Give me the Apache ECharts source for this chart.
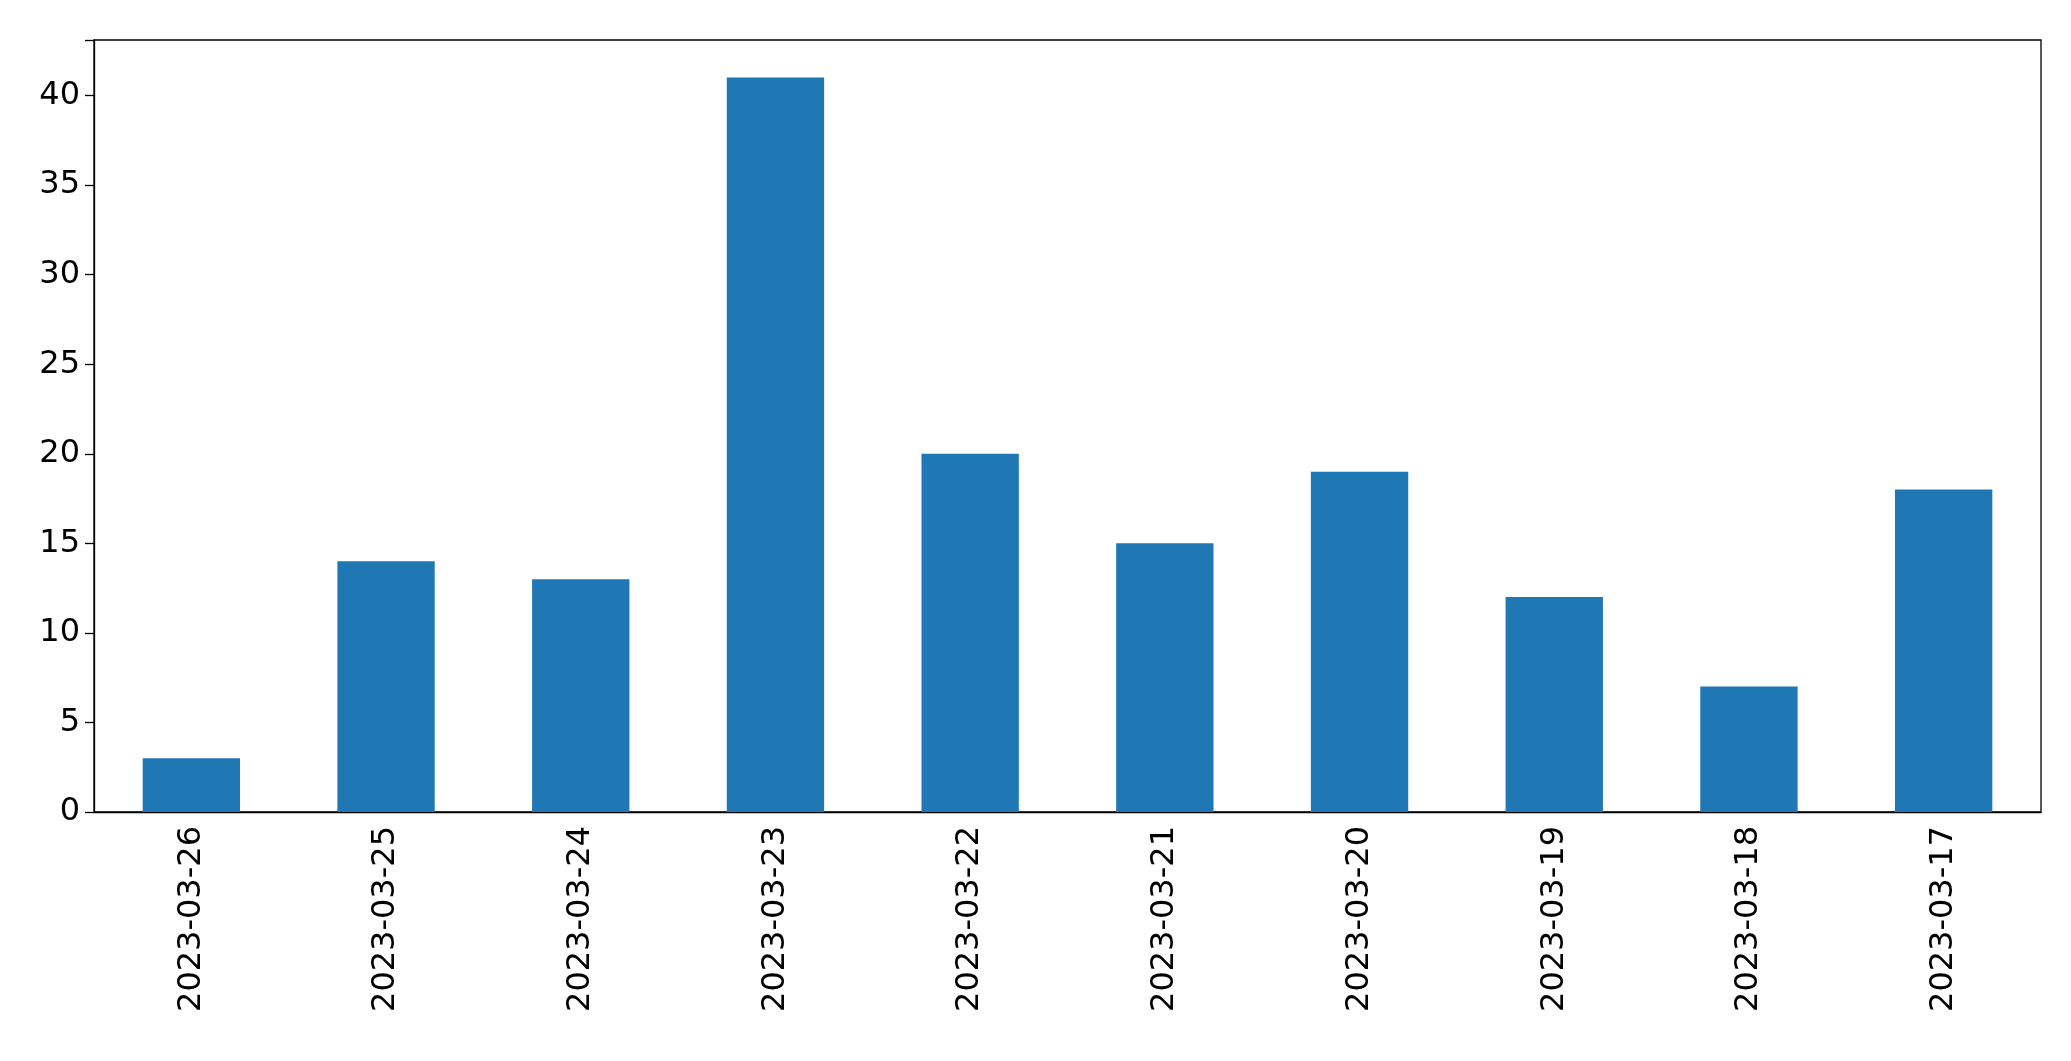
<!DOCTYPE html>
<html><head><meta charset="utf-8">
<script src="https://cdn.jsdelivr.net/npm/echarts@6/dist/echarts.min.js"></script>
<style>html,body{margin:0;padding:0;background:#fff}#c{width:2071px;height:1061px}</style>
</head><body><div id="c"></div>
<script>
const categories = ['2023-03-26','2023-03-25','2023-03-24','2023-03-23','2023-03-22','2023-03-21','2023-03-20','2023-03-19','2023-03-18','2023-03-17'];
const values = [3,14,13,41,20,15,19,12,7,18];
const chart = echarts.init(document.getElementById('c'));
const font = 'DejaVu Sans';
chart.setOption({
  animation:false,
  grid:{left:94,right:30,top:40,bottom:249,show:true,borderColor:'#000',borderWidth:1.3},
  xAxis:{type:'category',data:categories,
    axisLine:{lineStyle:{color:'#000',width:1.3}},
    axisTick:{alignWithLabel:true,length:9,lineStyle:{color:'#000',width:1.3}},
    axisLabel:{rotate:90,fontSize:32,color:'#000',fontFamily:font,margin:14}},
  yAxis:{type:'value',min:0,max:43.1,interval:5,
    axisLine:{show:true,lineStyle:{color:'#000',width:1.3}},
    axisTick:{show:true,length:9,lineStyle:{color:'#000',width:1.3}},
    splitLine:{show:false},
    axisLabel:{fontSize:32,color:'#000',fontFamily:font,margin:14,
      formatter:v=>(v%5===0?v:'')}},
  series:[{type:'bar',data:values,barWidth:'50%',itemStyle:{color:'#1f77b4'}}]
});
</script></body></html>
